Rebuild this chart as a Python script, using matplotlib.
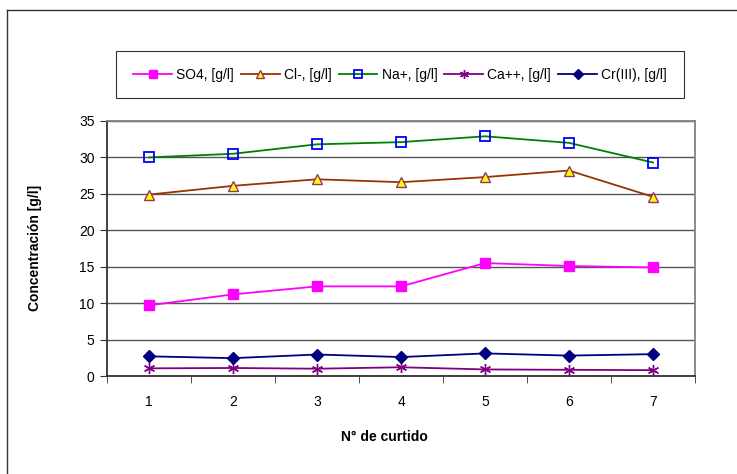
import numpy as np
import matplotlib.pyplot as plt
from matplotlib.lines import Line2D

plt.rcParams['font.family'] = ['Liberation Sans', 'DejaVu Sans']

# Datos por curtido
curtido = [1, 2, 3, 4, 5, 6, 7]
so4 = [9.7, 11.2, 12.3, 12.3, 15.5, 15.1, 14.9]
cl = [24.9, 26.1, 27.0, 26.6, 27.3, 28.2, 24.6]
na = [30.0, 30.5, 31.8, 32.1, 32.9, 32.0, 29.3]
ca = [1.05, 1.1, 1.0, 1.2, 0.9, 0.85, 0.8]
cr = [2.7, 2.45, 2.95, 2.6, 3.1, 2.8, 3.0]

fig = plt.figure(figsize=(7.37, 4.74), dpi=100)
ax = fig.add_axes([107 / 737, 1 - 376 / 474, 588 / 737, 255 / 474])

ax.plot(curtido, so4, color='#ff00ff', lw=1.3, marker='s', ms=7,
        mfc='#ff00ff', mec='#ff00ff', label='SO4, [g/l]')
ax.plot(curtido, cl, color='#993300', lw=1.3, marker='^', ms=7.5,
        mfc='#ffff00', mec='#993366', mew=1.0, label='Cl-, [g/l]')
ax.plot(curtido, na, color='#008000', lw=1.3, marker='s', ms=7.2,
        mfc='none', mec='#0000ff', mew=1.3, label='Na+, [g/l]')
ax.plot(curtido, ca, color='#800080', lw=1.3, marker=(6, 2, 0), ms=8,
        mec='#800080', mew=1.0, label='Ca++, [g/l]')
ax.plot(curtido, cr, color='#000080', lw=1.3, marker='D', ms=6,
        mfc='#000080', mec='#000080', label='Cr(III), [g/l]')

ax.set_xlim(0.5, 7.5)
ax.set_ylim(0, 35)
ax.set_yticks(np.arange(0, 36, 5))
ax.set_xticks(curtido)
ax.set_xticks(np.arange(0.5, 7.6, 1), minor=True)
ax.tick_params(axis='x', which='major', length=0, pad=14, labelsize=10)
ax.tick_params(axis='x', which='minor', length=5, color='#333333')
ax.tick_params(axis='y', length=5, color='#333333', labelsize=10, pad=4)
ax.yaxis.grid(True, color='#555555', lw=1)
ax.set_axisbelow(True)

for side in ['left', 'bottom']:
    ax.spines[side].set_color('#333333')
    ax.spines[side].set_linewidth(1.3)
for side in ['top', 'right']:
    ax.spines[side].set_color('#808080')
    ax.spines[side].set_linewidth(1.3)

fig.text(35 / 737, 1 - 248 / 474, 'Concentración [g/l]', rotation=90,
         ha='center', va='center', fontsize=10, fontweight='bold')
fig.text(384 / 737, 1 - 437 / 474, 'N° de curtido',
         ha='center', va='center', fontsize=10, fontweight='bold')

leg = fig.legend(loc='center', bbox_to_anchor=(400 / 737, 1 - 74.5 / 474),
                 ncol=5, fontsize=10, frameon=True, fancybox=False,
                 edgecolor='black', handlelength=2.8, handletextpad=0.3,
                 columnspacing=0.5, borderpad=1.2, borderaxespad=0,
                 markerscale=0.8)
leg.get_frame().set_linewidth(0.8)

# marco exterior del grafico
fig.add_artist(Line2D([7 / 737, 7 / 737], [0, 1 - 10 / 474],
                      transform=fig.transFigure, color='#333333', lw=1))
fig.add_artist(Line2D([7 / 737, 1], [1 - 10 / 474, 1 - 10 / 474],
                      transform=fig.transFigure, color='#333333', lw=1))

fig.savefig('out.png', dpi=100)
